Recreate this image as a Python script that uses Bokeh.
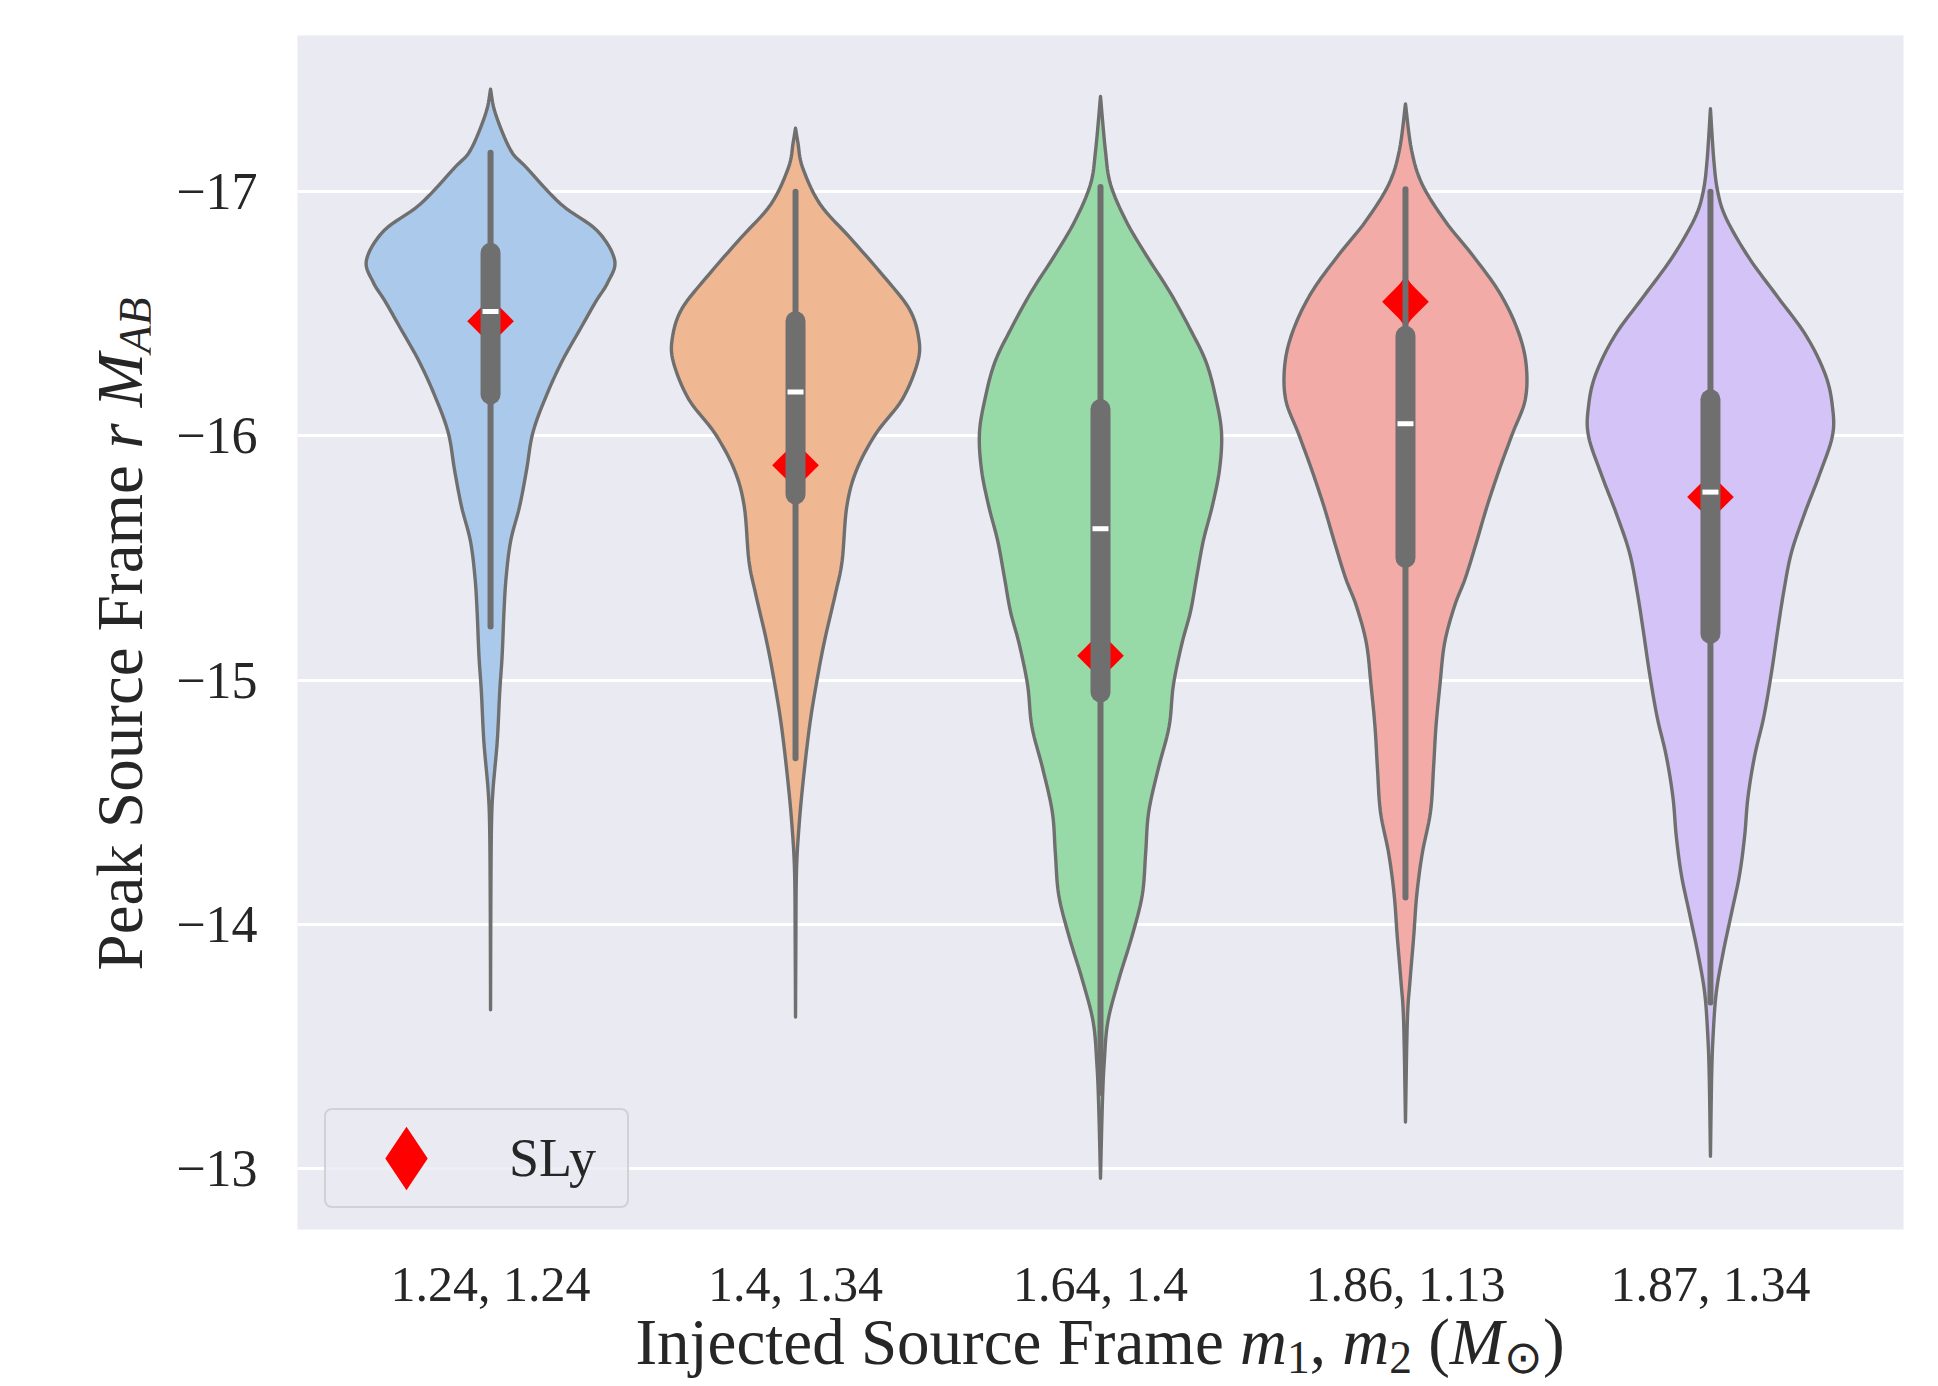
import math
from bokeh.plotting import figure
from bokeh.layouts import row, column
from bokeh.models import Range1d, FixedTicker, Legend, LegendItem, Div
from bokeh.embed import file_html
from bokeh.resources import INLINE

# ---------------- data ----------------
categories = ["1.24, 1.24", "1.4, 1.34", "1.64, 1.4", "1.86, 1.13", "1.87, 1.34"]
y_ticks = [-17, -16, -15, -14, -13]
y_tick_labels = ["\u221217", "\u221216", "\u221215", "\u221214", "\u221213"]

# violin outlines: magnitude values (y) and half-widths (in category units)
v1_y = [-17.42, -17.32, -17.17, -17.10, -16.95, -16.84, -16.72, -16.63, -16.55, -16.44,
        -16.30, -16.15, -16.01, -15.86, -15.71, -15.57, -15.42, -15.28, -15.10, -14.95,
        -14.75, -14.55, -14.40, -14.10, -13.65]
v1_w = [0.0, 0.016, 0.066, 0.117, 0.23, 0.35, 0.407, 0.385, 0.345, 0.295,
        0.232, 0.178, 0.138, 0.118, 0.095, 0.066, 0.051, 0.044, 0.038, 0.030,
        0.022, 0.008, 0.003, 0.001, 0.0]

v2_y = [-17.26, -17.20, -17.10, -16.95, -16.81, -16.66, -16.52, -16.40, -16.30, -16.15,
        -16.01, -15.86, -15.71, -15.49, -15.36, -15.16, -14.99, -14.82, -14.61, -14.41,
        -14.21, -13.90, -13.62]
v2_w = [0.0, 0.008, 0.023, 0.08, 0.18, 0.285, 0.373, 0.404, 0.40, 0.35,
        0.264, 0.20, 0.168, 0.153, 0.132, 0.095, 0.069, 0.047, 0.027, 0.012,
        0.003, 0.001, 0.0]

v3_y = [-17.39, -17.17, -17.03, -16.88, -16.74, -16.59, -16.44, -16.30, -16.15, -16.01,
        -15.86, -15.71, -15.57, -15.42, -15.28, -15.15, -14.98, -14.81, -14.64, -14.46,
        -14.29, -14.12, -13.95, -13.77, -13.60, -13.43, -13.26, -12.96]
v3_w = [0.0, 0.016, 0.033, 0.084, 0.15, 0.227, 0.293, 0.347, 0.379, 0.397,
        0.39, 0.366, 0.337, 0.315, 0.295, 0.267, 0.239, 0.225, 0.19, 0.158,
        0.148, 0.137, 0.103, 0.059, 0.024, 0.012, 0.006, 0.0]

v4_y = [-17.36, -17.17, -17.03, -16.88, -16.74, -16.59, -16.44, -16.30, -16.15, -16.01,
        -15.86, -15.71, -15.57, -15.42, -15.30, -15.15, -14.98, -14.81, -14.64, -14.46,
        -14.29, -14.12, -13.95, -13.77, -13.60, -13.19]
v4_w = [0.0, 0.02, 0.055, 0.13, 0.22, 0.307, 0.366, 0.395, 0.393, 0.351,
        0.307, 0.267, 0.234, 0.197, 0.16, 0.128, 0.113, 0.10, 0.092, 0.082,
        0.055, 0.037, 0.027, 0.015, 0.006, 0.0]

v5_y = [-17.34, -17.13, -17.00, -16.89, -16.73, -16.57, -16.41, -16.25, -16.12, -16.00,
        -15.84, -15.68, -15.52, -15.36, -15.20, -15.03, -14.85, -14.69, -14.52, -14.36,
        -14.20, -14.04, -13.88, -13.72, -13.55, -13.38, -13.05]
v5_w = [0.0, 0.011, 0.024, 0.052, 0.126, 0.22, 0.314, 0.377, 0.40, 0.40,
        0.357, 0.308, 0.265, 0.24, 0.22, 0.20, 0.175, 0.145, 0.123, 0.112,
        0.095, 0.068, 0.041, 0.019, 0.009, 0.004, 0.0]

# inner box statistics
whisker_top = [-17.16, -17.00, -17.02, -17.01, -17.00]
box_top = [-16.75, -16.47, -16.11, -16.41, -16.15]
median = [-16.51, -16.18, -15.62, -16.05, -15.77]
box_bottom = [-16.17, -15.76, -14.95, -15.50, -15.19]
whisker_bottom = [-15.22, -14.68, -13.31, -14.11, -13.68]

# SLy equation-of-state values
sly = [-16.47, -15.88, -15.10, -16.55, -15.75]

# ---------------- styling ----------------
colors = ["#abc9ea", "#efb792", "#98daa7", "#f3aba8", "#d3c3f6"]
gray = "#6f6f6f"
text_color = "#262626"
FONT = "Liberation Serif"

TOTAL_W, TOTAL_H = 1938, 1386
YT_W = 150                       # width of the y-title strip
P_W, P_H = TOTAL_W - YT_W, 1314  # figure size
XT_H = TOTAL_H - P_H             # height of the x-title strip
BL, BR, BT, BB = 297 - YT_W, TOTAL_W - 1903, 35, P_H - 1232
FW, FH = P_W - BL - BR, P_H - BT - BB


def smooth_outline(py, pw, n=8):
    """Smooth path through the read outline points (Catmull-Rom)."""
    pts = list(zip(py, pw))
    out = []
    m = len(pts)
    for i in range(m - 1):
        p0 = pts[max(i - 1, 0)]
        p1 = pts[i]
        p2 = pts[i + 1]
        p3 = pts[min(i + 2, m - 1)]
        for k in range(n):
            t = k / n
            t2, t3 = t * t, t * t * t
            c = [0.5 * (2 * p1[j] + (-p0[j] + p2[j]) * t + (2 * p0[j] - 5 * p1[j] + 4 * p2[j] - p3[j]) * t2
                        + (-p0[j] + 3 * p1[j] - 3 * p2[j] + p3[j]) * t3) for j in range(2)]
            out.append((c[0], max(c[1], 0.0)))
    out.append(pts[-1])
    return [a for a, _ in out], [b for _, b in out]


positions = list(range(len(categories)))
profiles = [(v1_y, v1_w), (v2_y, v2_w), (v3_y, v3_w), (v4_y, v4_w), (v5_y, v5_w)]
xs, ys = [], []
for pos, (py, pw) in zip(positions, profiles):
    sy, sw = smooth_outline(py, pw)
    xs.append([pos + w for w in sw] + [pos - w for w in reversed(sw)])
    ys.append(sy + list(reversed(sy)))

p = figure(width=P_W, height=P_H,
           x_range=Range1d(-0.633, 4.633), y_range=Range1d(-12.75, -17.64),
           output_backend="svg", toolbar_location=None,
           min_border_left=BL, min_border_right=BR, min_border_top=BT, min_border_bottom=BB)
p.background_fill_color = "#eaeaf2"
p.border_fill_color = "white"
p.outline_line_color = None

# axes
p.xaxis.ticker = FixedTicker(ticks=positions)
p.xaxis.major_label_overrides = {i: c for i, c in zip(positions, categories)}
p.yaxis.ticker = FixedTicker(ticks=y_ticks)
p.yaxis.major_label_overrides = {t: l for t, l in zip(y_ticks, y_tick_labels)}
for ax in (p.xaxis[0], p.yaxis[0]):
    ax.axis_line_color = None
    ax.major_tick_line_color = None
    ax.minor_tick_line_color = None
    ax.major_tick_out = 0
    ax.major_tick_in = 0
    ax.major_label_text_font = FONT
    ax.major_label_text_color = text_color
p.xaxis.major_label_text_font_size = "50px"
p.yaxis.major_label_text_font_size = "52px"
p.xaxis.major_label_standoff = 26
p.yaxis.major_label_standoff = 40

p.xgrid.visible = False
p.ygrid.ticker = FixedTicker(ticks=y_ticks)
p.ygrid.grid_line_color = "white"
p.ygrid.grid_line_width = 3

# violins
p.patches(xs=xs, ys=ys, fill_color=colors, line_color=gray, line_width=3.4, line_join="round")

# SLy markers: a stroked diamond under a rotated square
r_diam = p.scatter(positions, sly, marker="diamond", size=27, fill_color="red",
                   line_color="red", line_width=14, line_join="miter")
p.scatter(positions, sly, marker="square", angle=math.pi / 4, size=33, fill_color="red", line_color=None)

# inner boxes
p.segment(x0=positions, y0=whisker_top, x1=positions, y1=whisker_bottom,
          line_color=gray, line_width=6, line_cap="round")
p.segment(x0=positions, y0=box_top, x1=positions, y1=box_bottom,
          line_color=gray, line_width=20, line_cap="round")
p.scatter(positions, median, marker="dash", size=16, line_color="white", line_width=5)

# legend
legend = Legend(items=[LegendItem(label="SLy", renderers=[r_diam])], location=(27, 21))
legend.margin = 0
legend.padding = 0
legend.glyph_height = 96
legend.glyph_width = 160
legend.label_standoff = 23
legend.label_width = 118
legend.label_text_font = FONT
legend.label_text_font_size = "54px"
legend.label_text_color = text_color
legend.background_fill_color = "#eaeaf2"
legend.background_fill_alpha = 0.8
legend.border_line_color = "#cccccc"
legend.border_line_alpha = 0.8
legend.border_line_width = 2
if "border_radius" in Legend.properties():
    legend.border_radius = 8
p.add_layout(legend)

# axis titles as HTML text (mixed upright / italic / subscript)
TF = 65
sub = "<sub style='font-size:70%;vertical-align:-0.2em;line-height:0'>{}</sub>"
x_title = ("Injected Source Frame <i>m</i>" + sub.format("1") + ", <i>m</i>" + sub.format("2")
           + " (<i>M</i>" + sub.format("\u2299") + ")")
y_title = "Peak Source Frame <i>r</i> <i>M</i>" + sub.format("<i>AB</i>")

x_html = (f"<div style=\"margin-left:{BL}px;width:{FW}px;text-align:center;white-space:nowrap;"
          f"font-family:'{FONT}';font-size:{TF}px;line-height:56px;color:{text_color};\">{x_title}</div>")
YL = 60
ycx, ycy = 119.8, BT + FH / 2
y_html = (f"<div style=\"position:relative;left:{ycx - FH / 2:.1f}px;top:{ycy - YL / 2:.1f}px;"
          f"width:{FH}px;height:{YL}px;line-height:{YL}px;text-align:center;white-space:nowrap;"
          f"transform:rotate(-90deg);font-family:'{FONT}';font-size:{TF}px;color:{text_color};\">{y_title}</div>")

x_div = Div(text=x_html, width=P_W, height=XT_H, margin=0, disable_math=True)
y_div = Div(text=y_html, width=YT_W, height=TOTAL_H, margin=0, disable_math=True)

layout = row(y_div, column(p, x_div, spacing=0), spacing=0)

open("out.html", "w").write(file_html(layout, INLINE))
